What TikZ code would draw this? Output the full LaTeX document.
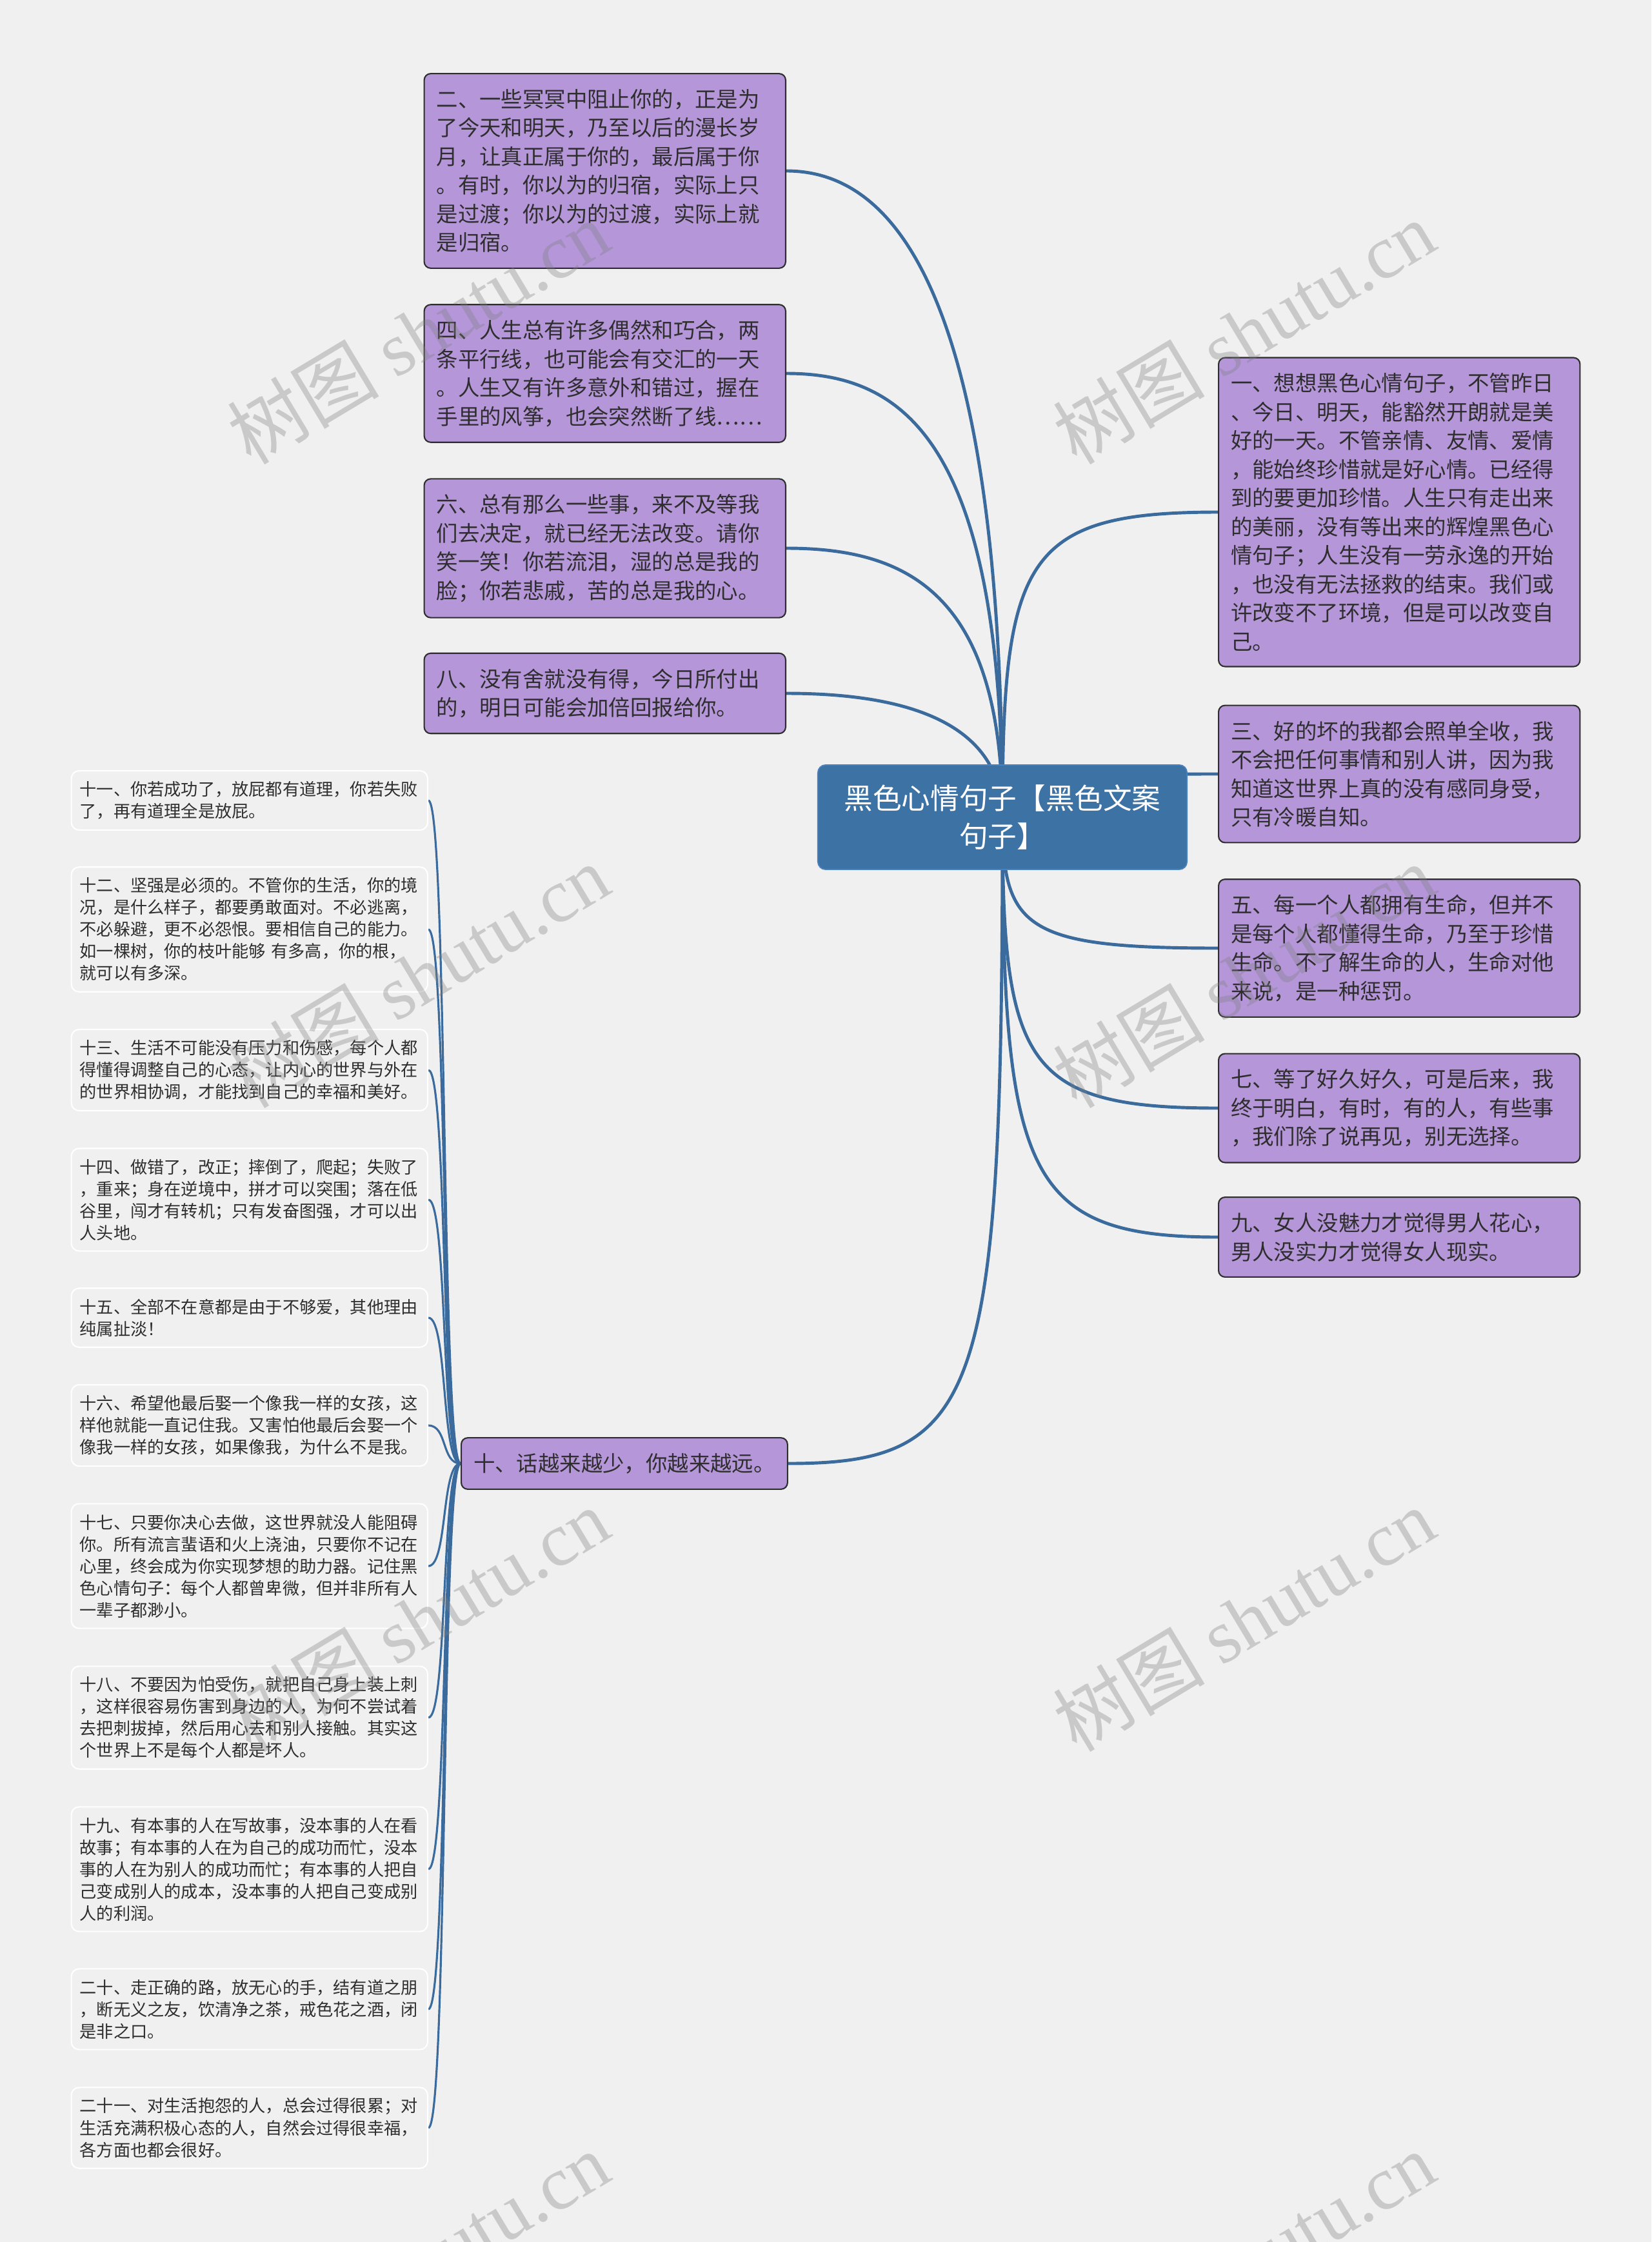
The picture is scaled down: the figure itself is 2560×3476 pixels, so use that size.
\documentclass[tikz,border=0pt]{standalone}
\usepackage{fontspec}
\setmainfont{Noto Sans CJK SC}
\newfontfamily\wmfont{Liberation Serif}

\definecolor{canvasgray}{HTML}{F0F0F0}
\definecolor{ideafill}{HTML}{B596D9}
\definecolor{rootblue}{HTML}{3D72A5}
\definecolor{rootedge}{HTML}{4A82C0}
\definecolor{linkblue}{HTML}{3A6B9C}
\definecolor{inkgray}{HTML}{2E2E2E}

\pgfdeclarelayer{canvas}
\pgfdeclarelayer{links}
\pgfsetlayers{canvas,links,main}

\tikzset{
  central/.style={fill=rootblue, draw=rootedge, line width=0.5pt, rounded corners=0.12cm,
    text=white, font=\fontsize{12.7pt}{17pt}\selectfont, align=center,
    minimum width=5.72cm, minimum height=1.62cm, inner sep=0pt},
  topic/.style={draw=inkgray, line width=0.6pt, fill=ideafill, rounded corners=0.1cm,
    text=inkgray, font=\fontsize{9.5pt}{12.66pt}\selectfont, align=left,
    inner xsep=0.19cm, inner ysep=0.24cm},
  wide/.style={topic, text width=5.22cm},
  leaf/.style={draw=white, line width=0.6pt, fill=canvasgray, rounded corners=0.12cm,
    text=inkgray, font=\fontsize{7.45pt}{9.67pt}\selectfont, align=left,
    text width=5.26cm, inner xsep=0.13cm, inner ysep=0.165cm, anchor=east},
  branch/.style={draw=linkblue, line width=1.4pt},
  twig/.style={draw=linkblue, line width=0.9pt},
  stamp/.style={text=black!50, text opacity=0.34, rotate=31,
    font=\fontsize{33.5pt}{33.5pt}\selectfont, inner sep=0pt}
}

\begin{document}
\begin{tikzpicture}[x=0.01cm, y=-0.01cm]
    % Sfondo
    \begin{pgfonlayer}{canvas}
        \fill[canvasgray] (0,0) rectangle (2560,3476);
    \end{pgfonlayer}
    \useasboundingbox (0,0) rectangle (2560,3476);

    % Nodo centrale
    \node[central] (root) at (1554,1267) {黑色心情句子【黑色文案\\句子】};

    % Rami a sinistra
    \node[wide, anchor=east] (n2) at (1219,265) {二、一些冥冥中阻止你的，正是为\\了今天和明天，乃至以后的漫长岁\\月，让真正属于你的，最后属于你\\。有时，你以为的归宿，实际上只\\是过渡；你以为的过渡，实际上就\\是归宿。};
    \node[wide, anchor=east] (n4) at (1219,579) {四、人生总有许多偶然和巧合，两\\条平行线，也可能会有交汇的一天\\。人生又有许多意外和错过，握在\\手里的风筝，也会突然断了线……};
    \node[wide, anchor=east] (n6) at (1219,850) {六、总有那么一些事，来不及等我\\们去决定，就已经无法改变。请你\\笑一笑！你若流泪，湿的总是我的\\脸；你若悲戚，苦的总是我的心。};
    \node[wide, anchor=east] (n8) at (1219,1075) {八、没有舍就没有得，今日所付出\\的，明日可能会加倍回报给你。};
    \node[topic, anchor=west] (n10) at (714,2269) {十、话越来越少，你越来越远。};

    % Rami a destra
    \node[wide, anchor=west] (n1) at (1888,794) {一、想想黑色心情句子，不管昨日\\、今日、明天，能豁然开朗就是美\\好的一天。不管亲情、友情、爱情\\，能始终珍惜就是好心情。已经得\\到的要更加珍惜。人生只有走出来\\的美丽，没有等出来的辉煌黑色心\\情句子；人生没有一劳永逸的开始\\，也没有无法拯救的结束。我们或\\许改变不了环境，但是可以改变自\\己。};
    \node[wide, anchor=west] (n3) at (1888,1200) {三、好的坏的我都会照单全收，我\\不会把任何事情和别人讲，因为我\\知道这世界上真的没有感同身受，\\只有冷暖自知。};
    \node[wide, anchor=west] (n5) at (1888,1470) {五、每一个人都拥有生命，但并不\\是每个人都懂得生命，乃至于珍惜\\生命。不了解生命的人，生命对他\\来说，是一种惩罚。};
    \node[wide, anchor=west] (n7) at (1888,1718) {七、等了好久好久，可是后来，我\\终于明白，有时，有的人，有些事\\，我们除了说再见，别无选择。};
    \node[wide, anchor=west] (n9) at (1888,1918) {九、女人没魅力才觉得男人花心，\\男人没实力才觉得女人现实。};

    % Foglie del ramo dieci
    \node[leaf] (n11) at (664,1241) {十一、你若成功了，放屁都有道理，你若失败\\了，再有道理全是放屁。};
    \node[leaf] (n12) at (664,1441) {十二、坚强是必须的。不管你的生活，你的境\\况，是什么样子，都要勇敢面对。不必逃离，\\不必躲避，更不必怨恨。要相信自己的能力。\\如一棵树，你的枝叶能够 有多高，你的根，\\就可以有多深。};
    \node[leaf] (n13) at (664,1659) {十三、生活不可能没有压力和伤感，每个人都\\得懂得调整自己的心态，让内心的世界与外在\\的世界相协调，才能找到自己的幸福和美好。};
    \node[leaf] (n14) at (664,1860) {十四、做错了，改正；摔倒了，爬起；失败了\\，重来；身在逆境中，拼才可以突围；落在低\\谷里，闯才有转机；只有发奋图强，才可以出\\人头地。};
    \node[leaf] (n15) at (664,2043) {十五、全部不在意都是由于不够爱，其他理由\\纯属扯淡！};
    \node[leaf] (n16) at (664,2210) {十六、希望他最后娶一个像我一样的女孩，这\\样他就能一直记住我。又害怕他最后会娶一个\\像我一样的女孩，如果像我，为什么不是我。};
    \node[leaf] (n17) at (664,2428) {十七、只要你决心去做，这世界就没人能阻碍\\你。所有流言蜚语和火上浇油，只要你不记在\\心里，终会成为你实现梦想的助力器。记住黑\\色心情句子：每个人都曾卑微，但并非所有人\\一辈子都渺小。};
    \node[leaf] (n18) at (664,2663) {十八、不要因为怕受伤，就把自己身上装上刺\\，这样很容易伤害到身边的人，为何不尝试着\\去把刺拔掉，然后用心去和别人接触。其实这\\个世界上不是每个人都是坏人。};
    \node[leaf] (n19) at (664,2898) {十九、有本事的人在写故事，没本事的人在看\\故事；有本事的人在为自己的成功而忙，没本\\事的人在为别人的成功而忙；有本事的人把自\\己变成别人的成本，没本事的人把自己变成别\\人的利润。};
    \node[leaf] (n20) at (664,3115) {二十、走正确的路，放无心的手，结有道之朋\\，断无义之友，饮清净之茶，戒色花之酒，闭\\是非之口。};
    \node[leaf] (n21) at (664,3299) {二十一、对生活抱怨的人，总会过得很累；对\\生活充满积极心态的人，自然会过得很幸福，\\各方面也都会很好。};

    % Collegamenti
    \begin{pgfonlayer}{links}
        \foreach \nd/\sd/\dy/\dx in {n2/east/-852/150, n4/east/-585/180, n6/east/-354/180, n8/east/-163/150,
                                     n1/west/-402/-300, n3/west/-57/-300, n5/west/172/-300, n7/west/383/-300,
                                     n9/west/554/-300, n10/east/900/300} {
            \draw[branch] (root.center) .. controls +(0,\dy) and +(\dx,0) .. (\nd.\sd);
        }
        \foreach \k in {11,12,...,21} {
            \draw[twig] (n10.west) .. controls +(-30,0) and +(30,0) .. (n\k.east);
        }
    \end{pgfonlayer}

    % Filigrana
    \begin{scope}
        \clip (0,0) rectangle (2560,3476);
        \foreach \x in {648,1928} {
            \foreach \y in {515,1513,2511,3509} {
                \node[stamp] (wm\x-\y) at (\x,\y) {树图 {\wmfont shutu.cn}};
            }
        }
    \end{scope}
\end{tikzpicture}
\end{document}
